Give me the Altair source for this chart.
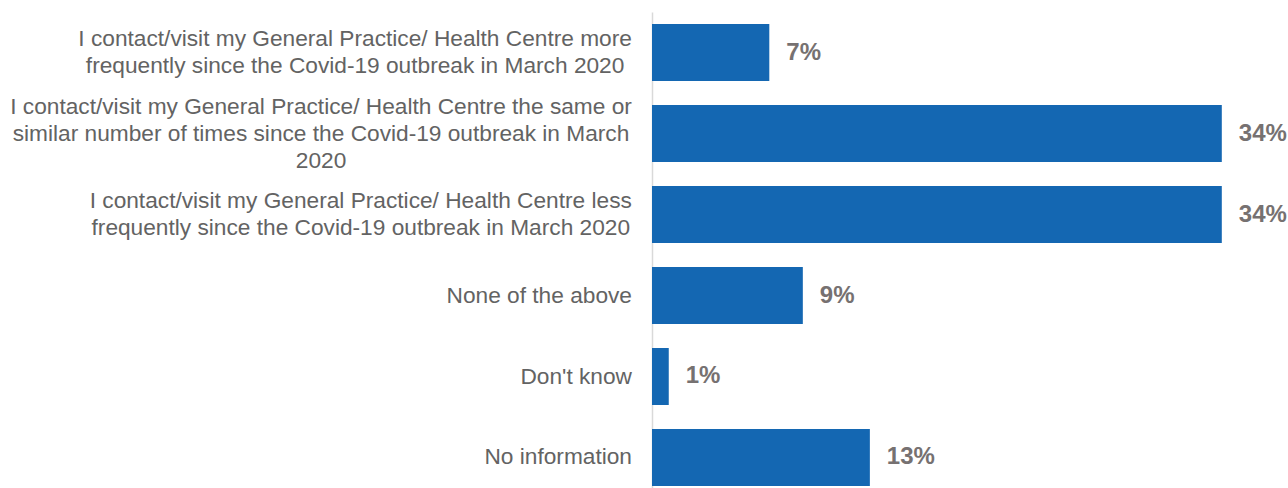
import altair as alt
import pandas as pd

categories = [
    "I contact/visit my General Practice/ Health Centre more\nfrequently since the Covid-19 outbreak in March 2020",
    "I contact/visit my General Practice/ Health Centre the same or\nsimilar number of times since the Covid-19 outbreak in March\n2020",
    "I contact/visit my General Practice/ Health Centre less\nfrequently since the Covid-19 outbreak in March 2020",
    "None of the above",
    "Don't know",
    "No information",
]
values = [7, 34, 34, 9, 1, 13]

LINE_H = 27
BAND = 57
FS = 22.7
GAP = 20

# Arial / Liberation Sans advance widths (per 1000 em) used to centre each label block
W = {" ": 278, "'": 191, "%": 889, "-": 333, "/": 278, ".": 278, ",": 278}
for d in "0123456789":
    W[d] = 556
W.update(dict(zip("ABCDEFGHIJKLMNOPQRSTUVWXYZ",
                  [667, 667, 722, 722, 667, 611, 778, 722, 278, 500, 667, 556, 833,
                   722, 778, 667, 778, 722, 667, 611, 722, 667, 944, 667, 667, 611])))
W.update(dict(zip("abcdefghijklmnopqrstuvwxyz",
                  [556, 556, 500, 556, 556, 278, 556, 556, 222, 222, 500, 222, 833,
                   556, 556, 556, 556, 333, 500, 278, 556, 500, 722, 500, 500, 500])))


def block_width(text):
    return max(sum(W.get(ch, 556) for ch in line) for line in text.split("\n")) * FS / 1000


df = pd.DataFrame({"cat": categories, "value": values})
df["label"] = [f"{v}%" for v in values]
df["nbreaks"] = [c.count("\n") for c in categories]
df["cx"] = [-GAP - block_width(c) / 2 for c in categories]

y_enc = alt.Y(
    "cat:N",
    sort=categories,
    scale=alt.Scale(paddingInner=0.2963, paddingOuter=0.0865, align=0.857),
    axis=alt.Axis(labels=False, ticks=False, title=None, domainColor="#d9d9d9",
                  domainWidth=1.5, grid=False),
)
x_enc = alt.X("value:Q", scale=alt.Scale(domain=[0, 37.95], nice=False, zero=True), axis=None)

base = alt.Chart(df)

bars = base.mark_bar(color="#1467B2").encode(x=x_enc, y=y_enc)

values_text = base.mark_text(
    align="left", baseline="middle", dx=17, font="Liberation Sans",
    fontSize=24, fontWeight="bold", color="#767171",
).encode(x=x_enc, y=y_enc, text="label:N")

cat_text = base.transform_calculate(
    off=f"{BAND / 2} - datum.nbreaks * {LINE_H / 2}"
).mark_text(
    align="center", baseline="middle", font="Liberation Sans", fontSize=FS,
    color="#636363", lineBreak="\n", lineHeight=LINE_H,
).encode(
    x=alt.value(0),
    xOffset=alt.XOffset("cx:Q", scale=None),
    y=y_enc,
    yOffset=alt.YOffset("off:Q", scale=None),
    text="cat:N",
)

chart = alt.layer(bars, values_text, cat_text).properties(
    width=636, height=476,
    padding={"left": 652, "top": 12, "right": 0, "bottom": 0},
    autosize=alt.AutoSizeParams(type="none"),
    background="white",
).configure_view(stroke=None)

chart.save("out.html", embed_options={"renderer": "svg", "actions": False})
